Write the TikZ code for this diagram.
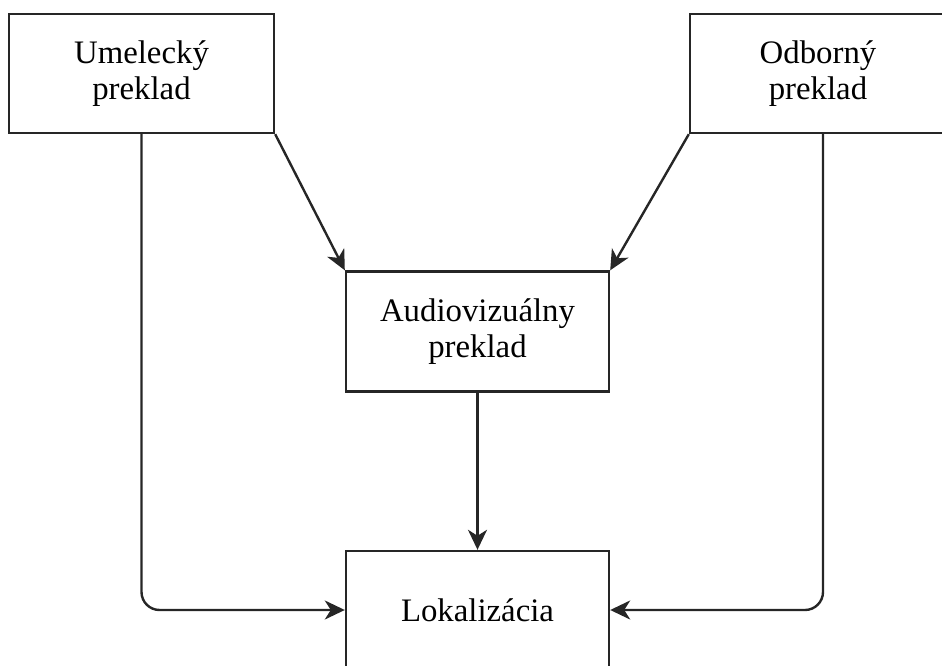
\documentclass[tikz,border=0pt]{standalone}
\usepackage{fontspec}
\setmainfont{Liberation Serif}
\usetikzlibrary{arrows.meta}
\begin{document}
\begin{tikzpicture}[x=1pt,y=-1pt,
  box/.style={draw=black!85, line width=2.4pt, fill=white, rectangle, inner sep=0pt,
    align=center, text=black, font=\fontsize{32.8}{35.5}\selectfont},
  conn/.style={draw=black!85, line width=2.4pt, -{Stealth[length=20pt,width=19pt,inset=6pt]}}]
\useasboundingbox (0,0) rectangle (942,666);
\node[box, minimum width=265pt, minimum height=119pt] (um) at (141.5,73.5) {Umelecký\\preklad};
\node[box, minimum width=266pt, minimum height=119pt] (od) at (823,73.5) {\hspace*{-10pt}Odborný\\\hspace*{-10pt}preklad};
\node[box, minimum width=263pt, minimum height=120pt] (av) at (477.5,331.5) {Audiovizuálny\\preklad};
\node[box, minimum width=263pt, minimum height=118pt] (lok) at (477.5,610) {Lokalizácia};
\draw[conn] (um.south east) -- (av.north west);
\draw[conn] (od.south west) -- (av.north east);
\draw[conn] (av.south) -- (lok.north);
\draw[conn, rounded corners=18pt] (um.south) |- (lok.west);
\draw[conn, rounded corners=18pt] (od.south) |- (lok.east);
\end{tikzpicture}
\end{document}
